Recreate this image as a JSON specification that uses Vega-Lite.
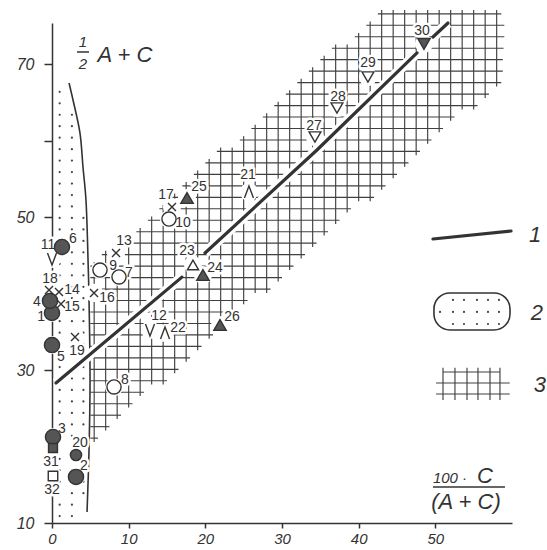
{
  "$schema": "https://vega.github.io/schema/vega-lite/v6.json",
  "width": 460,
  "height": 500,
  "autosize": {"type": "none"},
  "padding": {"left": 52, "top": 23, "right": 35, "bottom": 27},
  "background": "white",
  "config": {"view": {"stroke": null}},
  "datasets": {
    "hv": [
      {"x":5.5,"y":20.6,"y2":44.1},{"x":7.0,"y":22.1,"y2":45.6},{"x":8.5,"y":23.6,"y2":45.6},{"x":10.0,"y":25.1,"y2":47.1},
      {"x":11.5,"y":26.6,"y2":48.6},{"x":13.0,"y":28.1,"y2":50.1},{"x":14.5,"y":28.1,"y2":51.6},{"x":16.0,"y":29.6,"y2":53.1},
      {"x":17.5,"y":31.1,"y2":54.6},{"x":19.0,"y":32.6,"y2":56.1},{"x":20.5,"y":34.1,"y2":57.6},{"x":22.0,"y":35.6,"y2":59.1},
      {"x":23.5,"y":37.1,"y2":59.1},{"x":25.0,"y":38.6,"y2":60.6},{"x":26.5,"y":40.1,"y2":62.1},{"x":28.0,"y":40.1,"y2":63.6},
      {"x":29.5,"y":41.6,"y2":65.1},{"x":31.0,"y":43.1,"y2":66.6},{"x":32.5,"y":44.6,"y2":68.1},{"x":34.0,"y":46.1,"y2":69.6},
      {"x":35.5,"y":47.6,"y2":71.1},{"x":37.0,"y":49.1,"y2":72.6},{"x":38.5,"y":50.6,"y2":72.6},{"x":40.0,"y":52.1,"y2":74.1},
      {"x":41.5,"y":52.1,"y2":75.6},{"x":43.0,"y":53.6,"y2":77.1},{"x":44.5,"y":55.1,"y2":77.1},{"x":46.0,"y":56.6,"y2":77.1},
      {"x":47.5,"y":58.1,"y2":77.1},{"x":49.0,"y":59.6,"y2":77.1},{"x":50.5,"y":61.1,"y2":77.1},{"x":52.0,"y":62.6,"y2":77.1},
      {"x":53.5,"y":64.1,"y2":77.1},{"x":55.0,"y":64.1,"y2":77.1},{"x":56.5,"y":65.6,"y2":77.1},{"x":58.0,"y":67.1,"y2":77.1},
      {"x":51.0,"y":26.1,"y2":30.3},{"x":52.56,"y":26.1,"y2":30.3},{"x":54.13,"y":26.1,"y2":30.3},{"x":55.56,"y":26.1,"y2":30.3},
      {"x":57.13,"y":26.1,"y2":30.3},{"x":58.43,"y":26.1,"y2":30.3}
    ],
    "hh": [
      {"y":21.1,"x":5.0,"x2":6.0},{"y":22.6,"x":5.0,"x2":7.5},{"y":24.1,"x":5.0,"x2":9.0},{"y":25.6,"x":5.0,"x2":10.5},
      {"y":27.1,"x":5.0,"x2":12.0},{"y":28.6,"x":5.0,"x2":15.0},{"y":30.1,"x":5.0,"x2":16.5},{"y":31.6,"x":5.0,"x2":18.0},
      {"y":33.1,"x":5.0,"x2":19.5},{"y":34.6,"x":5.0,"x2":21.0},{"y":36.1,"x":5.0,"x2":22.5},{"y":37.6,"x":5.0,"x2":24.0},
      {"y":39.1,"x":5.0,"x2":25.5},{"y":40.6,"x":5.0,"x2":28.5},{"y":42.1,"x":5.0,"x2":30.0},{"y":43.6,"x":5.0,"x2":31.5},
      {"y":45.1,"x":6.5,"x2":33.0},{"y":46.6,"x":9.5,"x2":34.5},{"y":48.1,"x":11.0,"x2":36.0},{"y":49.6,"x":12.5,"x2":37.5},
      {"y":51.1,"x":14.0,"x2":39.0},{"y":52.6,"x":15.5,"x2":42.0},{"y":54.1,"x":17.0,"x2":43.5},{"y":55.6,"x":18.5,"x2":45.0},
      {"y":57.1,"x":20.0,"x2":46.5},{"y":58.6,"x":21.5,"x2":48.0},{"y":60.1,"x":24.5,"x2":49.5},{"y":61.6,"x":26.0,"x2":51.0},
      {"y":63.1,"x":27.5,"x2":52.5},{"y":64.6,"x":29.0,"x2":55.5},{"y":66.1,"x":30.5,"x2":57.0},{"y":67.6,"x":32.0,"x2":58.6},
      {"y":69.1,"x":33.5,"x2":58.8},{"y":70.6,"x":35.0,"x2":58.8},{"y":72.1,"x":36.5,"x2":58.9},{"y":73.6,"x":39.5,"x2":59.0},
      {"y":75.1,"x":41.0,"x2":59.0},{"y":76.6,"x":42.5,"x2":58.6},
      {"y":29.75,"x":51.0,"x2":58.43},{"y":28.31,"x":50.1,"x2":59.7},{"y":26.87,"x":50.1,"x2":59.7}
    ],
    "box": [{"x":49.82,"x2":59.74,"y":35.25,"y2":40.09}],
    "dots": [
      {"x":1.0,"y":66.4},{"x":1.0,"y":64.9},{"x":1.0,"y":63.4},{"x":1.0,"y":61.9},{"x":1.0,"y":60.4},{"x":1.0,"y":58.9},{"x":1.0,"y":57.4},{"x":1.0,"y":55.9},
      {"x":1.0,"y":54.4},{"x":1.0,"y":52.9},{"x":1.0,"y":51.4},{"x":1.0,"y":49.9},{"x":1.0,"y":48.4},{"x":1.0,"y":46.9},{"x":1.0,"y":45.4},{"x":1.0,"y":43.9},
      {"x":1.0,"y":42.4},{"x":1.0,"y":40.9},{"x":1.0,"y":39.4},{"x":1.0,"y":37.9},{"x":1.0,"y":36.4},{"x":1.0,"y":34.9},{"x":1.0,"y":33.4},{"x":1.0,"y":31.9},
      {"x":1.0,"y":30.4},{"x":1.0,"y":28.9},{"x":1.0,"y":27.4},{"x":1.0,"y":25.9},{"x":1.0,"y":24.4},{"x":1.0,"y":22.9},{"x":1.0,"y":21.4},{"x":1.0,"y":19.9},
      {"x":1.0,"y":18.4},{"x":1.0,"y":16.9},{"x":1.0,"y":15.4},{"x":1.0,"y":13.9},{"x":1.0,"y":12.4},{"x":1.0,"y":10.9},
      {"x":2.6,"y":63.4},{"x":2.6,"y":61.9},{"x":2.6,"y":60.4},{"x":2.6,"y":58.9},{"x":2.6,"y":57.4},{"x":2.6,"y":55.9},
      {"x":2.6,"y":54.4},{"x":2.6,"y":52.9},{"x":2.6,"y":51.4},{"x":2.6,"y":49.9},{"x":2.6,"y":48.4},{"x":2.6,"y":46.9},{"x":2.6,"y":45.4},{"x":2.6,"y":43.9},
      {"x":2.6,"y":42.4},{"x":2.6,"y":40.9},{"x":2.6,"y":39.4},{"x":2.6,"y":37.9},{"x":2.6,"y":36.4},{"x":2.6,"y":34.9},{"x":2.6,"y":33.4},{"x":2.6,"y":31.9},
      {"x":2.6,"y":30.4},{"x":2.6,"y":28.9},{"x":2.6,"y":27.4},{"x":2.6,"y":25.9},{"x":2.6,"y":24.4},{"x":2.6,"y":22.9},{"x":2.6,"y":21.4},{"x":2.6,"y":19.9},
      {"x":2.6,"y":18.4},{"x":2.6,"y":16.9},{"x":2.6,"y":15.4},{"x":2.6,"y":13.9},{"x":2.6,"y":12.4},{"x":2.6,"y":10.9},
      {"x":4.1,"y":49.9},{"x":4.1,"y":48.4},{"x":4.1,"y":46.9},{"x":4.1,"y":45.4},{"x":4.1,"y":43.9},
      {"x":4.1,"y":42.4},{"x":4.1,"y":40.9},{"x":4.1,"y":39.4},{"x":4.1,"y":37.9},{"x":4.1,"y":36.4},{"x":4.1,"y":34.9},{"x":4.1,"y":33.4},{"x":4.1,"y":31.9},
      {"x":4.1,"y":30.4},{"x":4.1,"y":28.9},{"x":4.1,"y":27.4},{"x":4.1,"y":25.9},{"x":4.1,"y":24.4},{"x":4.1,"y":22.9},{"x":4.1,"y":21.4},{"x":4.1,"y":19.9},
      {"x":4.1,"y":18.4},{"x":4.1,"y":16.9},{"x":4.1,"y":15.4},{"x":4.1,"y":13.9},
      {"x":52.3,"y":39.17},{"x":53.74,"y":39.17},{"x":55.43,"y":39.17},{"x":56.87,"y":39.17},{"x":58.3,"y":39.17},
      {"x":50.61,"y":37.6},{"x":52.3,"y":37.6},{"x":53.74,"y":37.6},{"x":55.43,"y":37.6},{"x":56.87,"y":37.6},{"x":58.3,"y":37.6},
      {"x":52.3,"y":36.03},{"x":53.74,"y":36.03},{"x":55.43,"y":36.03},{"x":56.87,"y":36.03},{"x":58.3,"y":36.03}
    ],
    "bd": [
      {"x":2.22,"y":67.55},{"x":2.74,"y":65.33},{"x":3.65,"y":61.01},{"x":4.04,"y":56.57},{"x":4.43,"y":52.25},
      {"x":4.7,"y":44.4},{"x":4.83,"y":39.17},{"x":4.96,"y":28.71},{"x":4.83,"y":19.55},{"x":4.57,"y":11.44}
    ],
    "ml": [
      {"s":"a","x":0.52,"y":28.3},{"s":"a","x":16.95,"y":42.16},
      {"s":"b","x":19.96,"y":45.32},{"s":"b","x":34.56,"y":58.79},{"s":"b","x":47.61,"y":71.48},
      {"s":"c","x":49.69,"y":73.57},{"s":"c","x":51.65,"y":75.4},
      {"s":"L","x":49.69,"y":47.15},{"s":"L","x":59.87,"y":48.19}
    ],
    "pts": [
      {"id":"1","x":0.0,"y":37.47,"t":"fc"},{"id":"2","x":3.13,"y":16.02,"t":"fc"},{"id":"3","x":0.13,"y":21.25,"t":"fc"},
      {"id":"4","x":-0.26,"y":39.04,"t":"fc"},{"id":"5","x":0.0,"y":33.28,"t":"fc"},{"id":"6","x":1.3,"y":46.1,"t":"fc"},
      {"id":"7","x":8.74,"y":42.18,"t":"oc"},{"id":"8","x":8.09,"y":27.79,"t":"oc"},{"id":"9","x":6.26,"y":43.09,"t":"oc"},
      {"id":"10","x":15.26,"y":49.76,"t":"oc"},{"id":"11","x":0.0,"y":44.53,"t":"v"},{"id":"12","x":12.78,"y":35.25,"t":"v"},
      {"id":"13","x":8.35,"y":45.32,"t":"x"},{"id":"14","x":0.91,"y":40.22,"t":"x"},{"id":"15","x":1.17,"y":38.65,"t":"x"},
      {"id":"16","x":5.48,"y":40.09,"t":"x"},{"id":"17","x":15.65,"y":51.33,"t":"x"},{"id":"18","x":-0.39,"y":40.48,"t":"x"},
      {"id":"19","x":3.0,"y":34.33,"t":"x"},{"id":"20","x":3.13,"y":18.89,"t":"fcs"},{"id":"21","x":25.69,"y":53.3,"t":"a"},
      {"id":"22","x":14.74,"y":34.85,"t":"a"},{"id":"23","x":18.39,"y":43.75,"t":"otu"},{"id":"24","x":19.69,"y":42.44,"t":"tu"},
      {"id":"25","x":17.61,"y":52.51,"t":"tu"},{"id":"26","x":21.91,"y":35.9,"t":"tu"},{"id":"27","x":34.3,"y":60.49,"t":"otd"},
      {"id":"28","x":37.17,"y":64.28,"t":"otd"},{"id":"29","x":41.21,"y":68.34,"t":"otd"},{"id":"30","x":48.52,"y":72.66,"t":"td"},
      {"id":"31","x":0.13,"y":19.81,"t":"fs"},{"id":"32","x":0.13,"y":16.15,"t":"os"}
    ],
    "lbl": [
      {"t":"1","x":-1.43,"y":36.95},{"t":"2","x":4.17,"y":17.46},{"t":"3","x":1.3,"y":22.3},{"t":"4","x":-1.96,"y":38.91},
      {"t":"5","x":1.17,"y":31.71},{"t":"6","x":2.74,"y":47.15},{"t":"7","x":10.04,"y":42.7},{"t":"8","x":9.5,"y":28.7},
      {"t":"9","x":7.96,"y":43.62},{"t":"10","x":17.09,"y":49.24},{"t":"11","x":-0.52,"y":46.36},{"t":"12","x":13.96,"y":37.08},
      {"t":"13","x":9.39,"y":46.89},{"t":"14","x":2.61,"y":40.48},{"t":"15","x":2.61,"y":38.25},{"t":"16","x":7.17,"y":39.43},
      {"t":"17","x":14.87,"y":52.9},{"t":"18","x":-0.26,"y":41.92},{"t":"19","x":3.26,"y":32.5},{"t":"20","x":3.65,"y":20.46},
      {"t":"21","x":25.56,"y":55.52},{"t":"22","x":16.43,"y":35.51},{"t":"23","x":17.61,"y":45.58},{"t":"24","x":21.26,"y":43.36},
      {"t":"25","x":19.17,"y":53.95},{"t":"26","x":23.48,"y":36.95},{"t":"27","x":34.17,"y":61.93},{"t":"28","x":37.3,"y":65.72},
      {"t":"29","x":41.21,"y":70.17},{"t":"30","x":48.26,"y":74.36},{"t":"31","x":-0.13,"y":17.98},{"t":"32","x":0.0,"y":14.32}
    ],
    "bars": [{"x":3.26,"x2":4.83,"y":71.61},{"x":49.69,"x2":59.08,"y":14.71}],
    "annS": [{"t":"1","x":4.04,"y":72.92},{"t":"2","x":4.04,"y":70.04},{"t":"100 ·","x":51.91,"y":15.9}],
    "annB": [
      {"t":"A + C","x":9.52,"y":71.22},{"t":"C","x":56.48,"y":16.15},{"t":"(A + C)","x":54.0,"y":12.75},
      {"t":"1","x":63.0,"y":47.67},{"t":"2","x":63.26,"y":37.47},{"t":"3","x":63.65,"y":28.05}
    ]
  },
  "encoding": {
    "x": {
      "field": "x", "type": "quantitative",
      "scale": {"domain": [0, 60], "nice": false, "zero": false},
      "axis": {
        "values": [0, 10, 20, 30, 40, 50], "title": null, "grid": false,
        "tickSize": 5, "labelPadding": 3, "labelFlush": false,
        "labelFont": "Liberation Sans", "labelFontSize": 15, "labelFontStyle": "italic", "labelColor": "#333",
        "domainColor": "#333", "domainWidth": 1.5, "tickColor": "#333", "tickWidth": 1.5
      }
    },
    "y": {
      "field": "y", "type": "quantitative",
      "scale": {"domain": [10, 75.4], "nice": false, "zero": false},
      "axis": {
        "values": [10, 20, 30, 40, 50, 60, 70], "title": null, "grid": false,
        "labelExpr": "datum.value % 20 == 10 ? datum.label : ''",
        "tickSize": 8, "labelPadding": 10, "labelFlush": false,
        "labelFont": "Liberation Sans", "labelFontSize": 16, "labelFontStyle": "italic", "labelColor": "#333",
        "domainColor": "#333", "domainWidth": 1.5, "tickColor": "#333", "tickWidth": 1.5
      }
    }
  },
  "layer": [
    {"data": {"name": "hv"}, "mark": {"type": "rule", "stroke": "#404040", "strokeWidth": 1.15}, "encoding": {"y2": {"field": "y2"}}},
    {"data": {"name": "hh"}, "mark": {"type": "rule", "stroke": "#404040", "strokeWidth": 1.15}, "encoding": {"x2": {"field": "x2"}}},
    {"data": {"name": "box"}, "mark": {"type": "rect", "fill": "white", "stroke": "#333", "strokeWidth": 1.6, "cornerRadius": 16}, "encoding": {"x2": {"field": "x2"}, "y2": {"field": "y2"}}},
    {"data": {"name": "dots"}, "mark": {"type": "point", "shape": "circle", "filled": true, "fill": "#444", "size": 5, "opacity": 1}},
    {"data": {"name": "bd"}, "mark": {"type": "line", "stroke": "#333", "strokeWidth": 1.6, "interpolate": "catmull-rom"}, "encoding": {"order": {"field": "y", "type": "quantitative"}}},
    {"data": {"name": "ml"}, "mark": {"type": "line", "stroke": "white", "strokeWidth": 10, "strokeCap": "butt"}, "encoding": {"detail": {"field": "s"}}},
    {"data": {"name": "pts"}, "mark": {"type": "point", "shape": "circle", "filled": true, "fill": "white", "opacity": 1, "size": 330}},
    {"data": {"name": "lbl"}, "mark": {"type": "text", "font": "Liberation Sans", "fontSize": 14, "fill": "white", "stroke": "white", "strokeWidth": 5, "strokeJoin": "round", "align": "center", "baseline": "middle"}, "encoding": {"text": {"field": "t"}}},
    {"data": {"name": "ml"}, "mark": {"type": "line", "stroke": "#333", "strokeWidth": 3.2, "strokeCap": "round"}, "encoding": {"detail": {"field": "s"}}},
    {
      "data": {"name": "pts"},
      "mark": {"type": "point", "filled": true, "opacity": 1, "stroke": "#333", "strokeWidth": 1.4},
      "encoding": {
        "shape": {"field": "t", "type": "nominal", "legend": null, "scale": {
          "domain": ["fc","fcs","oc","x","v","a","tu","otu","otd","td","fs","os"],
          "range": ["circle","circle","circle","M-1,-1L1,1M-1,1L1,-1","M-0.75,-1L0,1L0.75,-1","M-0.75,1L0,-1L0.75,1","triangle-up","triangle-up","triangle-down","triangle-down","square","square"]}},
        "fill": {"field": "t", "type": "nominal", "legend": null, "scale": {
          "domain": ["fc","fcs","oc","x","v","a","tu","otu","otd","td","fs","os"],
          "range": ["#555","#555","white","transparent","transparent","transparent","#555","white","white","#555","#555","white"]}},
        "size": {"field": "t", "type": "nominal", "legend": null, "scale": {
          "type": "ordinal",
          "domain": ["fc","fcs","oc","x","v","a","tu","otu","otd","td","fs","os"],
          "range": [230,125,200,64,144,144,155,125,140,155,80,90]}}
      }
    },
    {"data": {"name": "lbl"}, "mark": {"type": "text", "font": "Liberation Sans", "fontSize": 14, "fill": "#333", "align": "center", "baseline": "middle"}, "encoding": {"text": {"field": "t"}}},
    {"data": {"name": "bars"}, "mark": {"type": "rule", "stroke": "#333", "strokeWidth": 1.5}, "encoding": {"x2": {"field": "x2"}}},
    {"data": {"name": "annS"}, "mark": {"type": "text", "font": "Liberation Sans", "fontSize": 15, "fontStyle": "italic", "fill": "#333", "align": "center", "baseline": "middle"}, "encoding": {"text": {"field": "t"}}},
    {"data": {"name": "annB"}, "mark": {"type": "text", "font": "Liberation Sans", "fontSize": 22, "fontStyle": "italic", "fill": "#333", "align": "center", "baseline": "middle"}, "encoding": {"text": {"field": "t"}}}
  ]
}
